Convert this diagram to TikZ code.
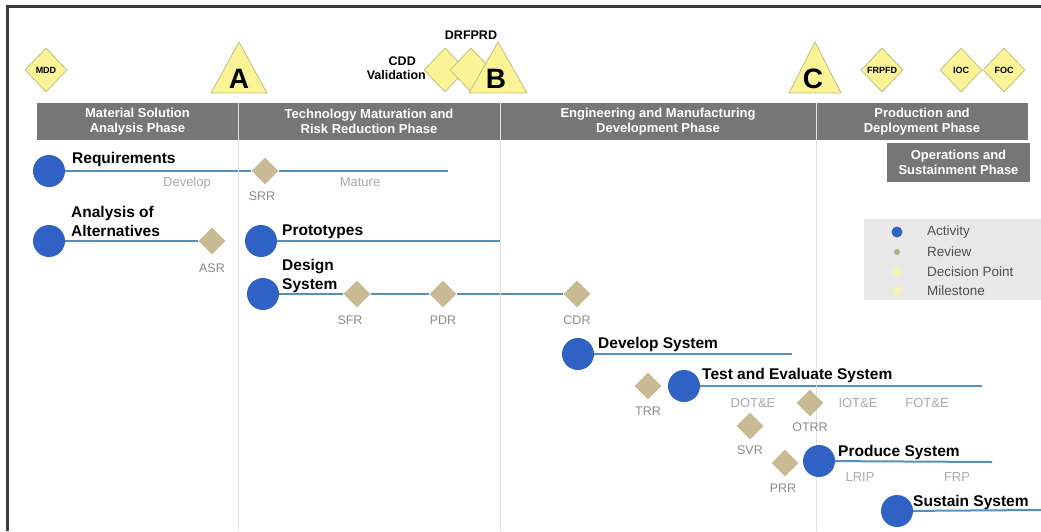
\documentclass[tikz,border=0pt]{standalone}
\usepackage{fontspec}
\setmainfont{Liberation Sans}
\usetikzlibrary{shapes.geometric,backgrounds}
\definecolor{actblue}{RGB}{48,98,198}
\definecolor{revtan}{RGB}{200,187,148}
\definecolor{msyel}{RGB}{250,244,150}
\definecolor{msedge}{RGB}{195,190,130}
\definecolor{lineblue}{RGB}{85,142,186}
\definecolor{bargray}{RGB}{118,118,118}
\definecolor{framegray}{RGB}{60,60,60}
\definecolor{seplight}{RGB}{224,224,224}
\definecolor{labgray}{RGB}{170,170,170}
\definecolor{revlab}{RGB}{140,140,140}
\definecolor{legbg}{RGB}{232,232,232}
\definecolor{legtxt}{RGB}{80,80,80}
\begin{document}
\begin{tikzpicture}[x=1pt,y=-1pt,
 activity/.style={circle,fill=actblue,minimum size=32pt,inner sep=0},
 review/.style={diamond,fill=revtan,minimum size=27pt,inner sep=0},
 decision/.style={diamond,fill=msyel,draw=msedge,line width=0.8pt,minimum width=42pt,minimum height=44pt,inner sep=0,font=\fontsize{9}{10}\selectfont\bfseries},
 milestone/.style={fill=msyel,draw=msedge,line width=0.8pt},
 msletter/.style={font=\fontsize{28}{30}\selectfont\bfseries,inner sep=0},
 actlabel/.style={anchor=base west,inner sep=0,font=\fontsize{15.5}{19}\selectfont\bfseries,align=left},
 actline/.style={draw=lineblue,line width=2pt},
 phasebox/.style={fill=bargray,text=white,font=\fontsize{13}{15}\selectfont\bfseries,align=center,inner sep=0,minimum height=37pt},
 steplabel/.style={text=labgray,font=\fontsize{13}{15}\selectfont,inner sep=0},
 revlabel/.style={text=revlab,font=\fontsize{12.5}{15}\selectfont,inner sep=0},
 toplabel/.style={font=\fontsize{12.5}{14}\selectfont\bfseries,inner sep=0},
 legtext/.style={anchor=west,font=\fontsize{13.5}{15}\selectfont,text=legtxt,inner sep=0},
 legdot/.style={circle,inner sep=0},
]
\useasboundingbox (0,0) rectangle (1041,531);
\begin{pgfonlayer}{background}
\fill[white] (0,0) rectangle (1041,531);
\end{pgfonlayer}

% phase bar
\node[phasebox,minimum width=201pt] (ph1) at (137.5,121.5) {Material Solution\\Analysis Phase};
\node[phasebox,minimum width=262pt] (ph2) at (369,121.5) {Technology Maturation and\\Risk Reduction Phase};
\node[phasebox,minimum width=316pt] (ph3) at (658,121.5) {Engineering and Manufacturing\\Development Phase};
\node[phasebox,minimum width=212pt] (ph4) at (922,121.5) {Production and\\Deployment Phase};
\node[phasebox,minimum width=143pt,minimum height=39pt] (ph5) at (958.5,162.5) {Operations and\\Sustainment Phase};
\foreach \sx in {238,500,816}{\draw[seplight,line width=1pt] (\sx,103) -- (\sx,531);}

% frame
\draw[framegray,line width=3pt] (7.5,531) -- (7.5,6.5) -- (1041,6.5);

% top milestones
\node[decision] (mdd) at (46,70) {MDD};
\draw[milestone] (239,42) -- (267,93) -- (211,93) -- cycle;
\node[msletter] (msA) at (239,79) {A};
\node[decision] (cddv) at (445,70) {};
\node[decision] (drf) at (471,70) {};
\draw[milestone] (498,42) -- (527,93) -- (469,93) -- cycle;
\node[msletter] (msB) at (496,79) {B};
\node[toplabel,anchor=east,align=right] (cddlab) at (426,68) {CDD\hspace*{10pt}\\Validation};
\node[toplabel] (drflab) at (471,35) {DRFPRD};
\draw[milestone] (815,42) -- (841,93) -- (789,93) -- cycle;
\node[msletter] (msC) at (813,79) {C};
\node[decision] (frp) at (882,70) {FRPFD};
\node[decision] (ioc) at (961,70) {IOC};
\node[decision] (foc) at (1004,70) {FOC};

% Requirements
\node[activity] (req) at (49,171) {};
\node[actlabel] (reqlab) at (72,163) {Requirements};
\node[review] (srr) at (265,171) {};
\coordinate (reqend) at (448,171);
\node[revlabel] (srrlab) at (262,196) {SRR};
\node[steplabel] (devlab) at (187,183) {Develop};
\node[steplabel] (matlab) at (360,182) {Mature};

% Analysis of Alternatives
\node[activity] (aoa) at (49,241) {};
\node[actlabel] (aoalab) at (71,236) {Analysis of\\Alternatives};
\node[review] (asr) at (212,241) {};
\node[revlabel] (asrlab) at (212,268) {ASR};

% Prototypes
\node[activity] (proto) at (261,241) {};
\node[actlabel] (protolab) at (282,235) {Prototypes};
\coordinate (protoend) at (500,241);

% Design System
\node[activity] (des) at (263,294) {};
\node[actlabel] (deslab) at (282,289) {Design\\System};
\node[review] (sfr) at (357,294) {};
\node[review] (pdr) at (443,294) {};
\node[review] (cdr) at (577,294) {};
\node[revlabel] (sfrlab) at (350,320) {SFR};
\node[revlabel] (pdrlab) at (443,320) {PDR};
\node[revlabel] (cdrlab) at (577,320) {CDR};

% Develop System
\node[activity] (dev) at (578,354) {};
\node[actlabel] (devslab) at (598,348) {Develop System};
\coordinate (devend) at (792,354);

% Test and Evaluate
\node[review] (trr) at (648,386) {};
\node[revlabel] (trrlab) at (648,411) {TRR};
\node[activity] (test) at (684,386) {};
\node[actlabel] (testlab) at (702,379) {Test and Evaluate System};
\coordinate (testend) at (982,386);
\node[steplabel] (dote) at (753,403) {DOT\&E};
\node[review] (otrr) at (810,403) {};
\node[revlabel] (otrrlab) at (810,427) {OTRR};
\node[steplabel] (iote) at (858,403) {IOT\&E};
\node[steplabel] (fote) at (927,403) {FOT\&E};
\node[review] (svr) at (750,426) {};
\node[revlabel] (svrlab) at (750,450) {SVR};
\node[review] (prr) at (785,463) {};
\node[revlabel] (prrlab) at (783,488) {PRR};

% Produce System
\node[activity] (prod) at (819,461) {};
\node[actlabel] (prodlab) at (838,456) {Produce System};
\coordinate (prodend) at (992,462);
\node[steplabel] (lrip) at (860,477) {LRIP};
\node[steplabel] (frplab) at (957,477) {FRP};

% Sustain System
\node[activity] (sus) at (897,511) {};
\node[actlabel] (suslab) at (913,506) {Sustain System};
\coordinate (susend) at (1041,510);

% activity lines
\begin{pgfonlayer}{background}
\draw[actline] (req) -- (srr) -- (reqend);
\draw[actline] (aoa) -- (asr);
\draw[actline] (proto) -- (protoend);
\draw[actline] (des) -- (sfr) -- (pdr) -- (cdr);
\draw[actline] (dev) -- (devend);
\draw[actline] (test) -- (testend);
\draw[actline] (prod) -- (prodend);
\draw[actline] (sus) -- (susend);
\end{pgfonlayer}

% legend
\fill[legbg] (864,219) rectangle (1041,300);
\node[legdot,fill=actblue,minimum size=11pt] (lg1) at (897,232) {};
\node[legtext] (lgt1) at (927,232) {Activity};
\node[legdot,fill={rgb,255:red,178;green,172;blue,132},minimum size=6pt] (lg2) at (897,252) {};
\node[legtext] (lgt2) at (927,252) {Review};
\node[legdot,fill={rgb,255:red,246;green,242;blue,170},minimum size=9pt] (lg3) at (897,272) {};
\node[legtext] (lgt3) at (927,272) {Decision Point};
\node[legdot,fill={rgb,255:red,246;green,242;blue,170},minimum size=9pt] (lg4) at (897,291) {};
\node[legtext] (lgt4) at (927,291) {Milestone};
\end{tikzpicture}
\end{document}
